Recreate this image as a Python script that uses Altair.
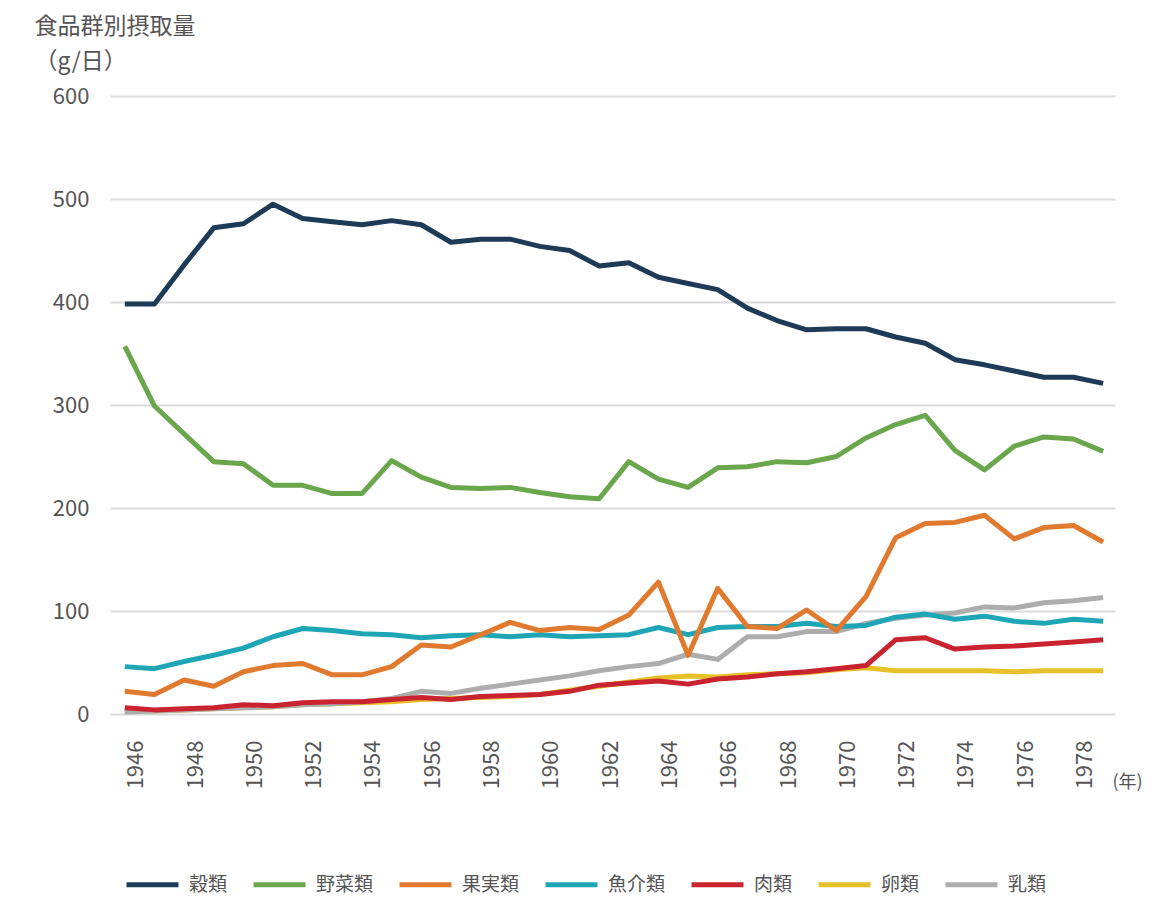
import altair as alt
import pandas as pd

years = list(range(1946, 1980))

grains = [398, 398, 436, 472, 476, 495, 481, 478, 475, 479, 475, 458, 461, 461, 454, 450, 435,
          438, 424, 418, 412, 394, 382, 373, 374, 374, 366, 360, 344, 339, 333, 327, 327, 321]
vegetables = [357, 299, 272, 245, 243, 222, 222, 214, 214, 246, 230, 220, 219, 220, 215, 211, 209,
              245, 228, 220, 239, 240, 245, 244, 250, 268, 281, 290, 256, 237, 260, 269, 267, 255]
fruits = [22, 19, 33, 27, 41, 47, 49, 38, 38, 46, 67, 65, 77, 89, 81, 84, 82,
          96, 128, 57, 122, 85, 83, 101, 81, 114, 171, 185, 186, 193, 170, 181, 183, 167]
fish = [46, 44, 51, 57, 64, 75, 83, 81, 78, 77, 74, 76, 77, 75, 77, 75, 76,
        77, 84, 77, 84, 85, 85, 88, 85, 86, 94, 97, 92, 95, 90, 88, 92, 90]
meat = [6, 4, 5, 6, 9, 8, 11, 12, 12, 14, 16, 14, 17, 18, 19, 22, 28,
        30, 32, 29, 34, 36, 39, 41, 44, 47, 72, 74, 63, 65, 66, 68, 70, 72]
eggs = [3, 3, 4, 5, 6, 7, 9, 10, 11, 12, 14, 15, 16, 17, 19, 23, 27,
        31, 35, 37, 36, 38, 39, 40, 43, 45, 42, 42, 42, 42, 41, 42, 42, 42]
milk = [2, 3, 4, 5, 6, 7, 9, 10, 12, 15, 22, 20, 25, 29, 33, 37, 42,
        46, 49, 58, 53, 75, 75, 80, 80, 88, 93, 96, 98, 104, 103, 108, 110, 113]

legend_order = ["穀類", "野菜類", "果実類", "魚介類", "肉類", "卵類", "乳類"]
colors = ["#1d3b56", "#6aa64b", "#e07a2f", "#1fa6b6", "#c8232f", "#e6c12a", "#adadad"]
series = {"穀類": grains, "野菜類": vegetables, "果実類": fruits, "魚介類": fish,
          "肉類": meat, "卵類": eggs, "乳類": milk}
draw_order = ["卵類", "乳類", "肉類", "魚介類", "果実類", "野菜類", "穀類"]
x_ticks = list(range(1946, 1979, 2))

rows = []
for name in draw_order:
    for y, v in zip(years, series[name]):
        rows.append({"year": y, "group": name, "value": v})
df = pd.DataFrame(rows)

FONT = "Noto Sans CJK JP"
TXT = "#555555"

chart = alt.Chart(df).mark_line(strokeWidth=5, strokeJoin="round", strokeCap="butt").encode(
    x=alt.X("year:Q",
            scale=alt.Scale(domain=[1945.5, 1979.4], nice=False, zero=False),
            axis=alt.Axis(values=x_ticks, format="d", labelAngle=270, grid=False, ticks=False,
                          domain=False, labelPadding=26, labelOffset=11, labelFontSize=22,
                          labelColor=TXT, labelFont=FONT, title="(年)", titleAngle=0,
                          titleAlign="left", titleBaseline="middle", titleX=1002, titleY=68,
                          titleFontSize=18, titleFontWeight="normal", titleColor=TXT,
                          titleFont=FONT)),
    y=alt.Y("value:Q",
            scale=alt.Scale(domain=[0, 600], nice=False),
            axis=alt.Axis(values=[0, 100, 200, 300, 400, 500, 600], grid=True, gridColor="#dadada",
                          gridWidth=2, ticks=False, domain=False, labelPadding=21,
                          labelFontSize=22, labelColor=TXT, labelFont=FONT,
                          title=["食品群別摂取量", "（g/日）"], titleAngle=0,
                          titleAlign="left", titleBaseline="top", titleX=-76, titleY=-81,
                          titleLineHeight=35, titleFontSize=23, titleFontWeight="normal",
                          titleColor=TXT, titleFont=FONT)),
    color=alt.Color("group:N",
                    scale=alt.Scale(domain=legend_order, range=colors),
                    legend=alt.Legend(orient="none", legendX=14, legendY=760, direction="horizontal",
                                      title=None, symbolType="stroke", symbolSize=2700,
                                      symbolStrokeWidth=5, labelFontSize=19, labelColor=TXT,
                                      labelFont=FONT, labelOffset=8, columnPadding=15,
                                      symbolOffset=0)),
    detail="group:N",
).properties(
    width=1005, height=618,
    autosize=alt.AutoSizeParams(type="none"),
    padding={"left": 102, "top": 88, "right": 29, "bottom": 183},
).configure_view(stroke=None)

chart.save("out.html", embed_options={"renderer": "svg", "actions": False})
